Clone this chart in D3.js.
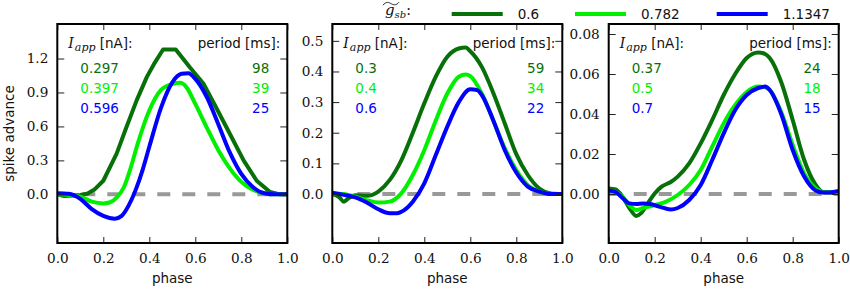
<!DOCTYPE html>
<html>
<head>
<meta charset="utf-8">
<script src="https://cdn.jsdelivr.net/npm/d3@7"></script>
<style>
  body { margin: 0; background: #fff; }
  svg { display: block; }
</style>
</head>
<body>
<svg id="chart"></svg>
<script>
// legend / labels
const gsbValues = ["0.6", "0.782", "1.1347"];
const iappLabels = [["0.297", "0.397", "0.596"], ["0.3", "0.4", "0.6"], ["0.37", "0.5", "0.7"]];
const periodLabels = [["98", "39", "25"], ["59", "34", "22"], ["24", "18", "15"]];

// ticks and ranges
const xTicks = [0, 0.2, 0.4, 0.6, 0.8, 1.0];
const yTicks = [[0, 0.3, 0.6, 0.9, 1.2], [0, 0.1, 0.2, 0.3, 0.4, 0.5], [0, 0.02, 0.04, 0.06, 0.08]];
const yDomains = [[-0.43, 1.505], [-0.16, 0.555], [-0.0245, 0.085]];
const yFormats = [".1f", ".1f", ".2f"];

// panel 1  [phase, spike advance]
const p1Dark = [[0, 0], [0.03, -0.015], [0.07, -0.01], [0.1, -0.005], [0.13, 0.005], [0.16, 0.04], [0.2, 0.12], [0.258, 0.36], [0.3, 0.59], [0.345, 0.83], [0.39, 1.04], [0.42, 1.15], [0.46, 1.28], [0.515, 1.28], [0.577, 1.12], [0.635, 0.98], [0.69, 0.77], [0.75, 0.535], [0.81, 0.3], [0.867, 0.12], [0.925, 0.02], [0.968, 0], [1, 0]];
const p1Light = [[0, 0], [0.05, -0.005], [0.1, -0.02], [0.15, -0.065], [0.2, -0.08], [0.23, -0.07], [0.26, -0.025], [0.29, 0.065], [0.32, 0.24], [0.35, 0.45], [0.4, 0.74], [0.45, 0.92], [0.5, 0.975], [0.535, 0.985], [0.56, 0.95], [0.6, 0.8], [0.65, 0.59], [0.7, 0.39], [0.75, 0.23], [0.8, 0.11], [0.85, 0.04], [0.9, 0.01], [0.95, 0], [1, 0]];
const p1Blue = [[0, 0.01], [0.05, 0.005], [0.1, -0.04], [0.15, -0.13], [0.2, -0.19], [0.25, -0.215], [0.28, -0.19], [0.31, -0.1], [0.34, 0.035], [0.37, 0.21], [0.4, 0.42], [0.45, 0.76], [0.5, 0.99], [0.54, 1.065], [0.57, 1.07], [0.6, 1.02], [0.65, 0.86], [0.7, 0.62], [0.75, 0.37], [0.8, 0.18], [0.85, 0.065], [0.9, 0.01], [0.95, 0], [1, 0]];

// panel 2
const p2Dark = [[0, 0], [0.03, -0.01], [0.05, -0.025], [0.07, -0.014], [0.1, -0.004], [0.15, -0.006], [0.2, 0.008], [0.25, 0.046], [0.3, 0.11], [0.35, 0.2], [0.4, 0.296], [0.45, 0.383], [0.5, 0.448], [0.55, 0.475], [0.58, 0.478], [0.6, 0.466], [0.65, 0.415], [0.7, 0.33], [0.75, 0.23], [0.8, 0.13], [0.85, 0.062], [0.9, 0.018], [0.95, 0.002], [1, 0]];
const p2Light = [[0, 0.002], [0.05, 0], [0.1, -0.009], [0.15, -0.02], [0.2, -0.028], [0.25, -0.025], [0.3, 0.002], [0.35, 0.062], [0.4, 0.143], [0.45, 0.24], [0.5, 0.328], [0.55, 0.383], [0.58, 0.39], [0.6, 0.385], [0.65, 0.328], [0.7, 0.24], [0.75, 0.149], [0.8, 0.078], [0.85, 0.029], [0.9, 0.008], [0.95, 0], [1, 0]];
const p2Blue = [[0, 0.004], [0.05, -0.003], [0.1, -0.011], [0.15, -0.028], [0.2, -0.05], [0.25, -0.063], [0.28, -0.063], [0.3, -0.058], [0.35, -0.025], [0.4, 0.035], [0.45, 0.127], [0.5, 0.22], [0.55, 0.3], [0.6, 0.342], [0.63, 0.339], [0.65, 0.323], [0.7, 0.24], [0.75, 0.143], [0.8, 0.07], [0.85, 0.024], [0.9, 0.008], [0.95, 0], [1, 0]];

// panel 3
const p3Dark = [[0, 0.0028], [0.03, 0.0023], [0.06, -0.0013], [0.09, -0.007], [0.12, -0.011], [0.14, -0.0097], [0.17, -0.0047], [0.2, 0.0003], [0.23, 0.0037], [0.27, 0.006], [0.3, 0.0087], [0.35, 0.0153], [0.4, 0.0253], [0.45, 0.037], [0.5, 0.0495], [0.55, 0.06], [0.6, 0.068], [0.65, 0.0708], [0.68, 0.07], [0.7, 0.068], [0.75, 0.056], [0.8, 0.037], [0.85, 0.017], [0.9, 0.0045], [0.93, 0.001], [0.95, 0.0007], [1, 0.001]];
const p3Light = [[0, 0.0017], [0.03, 0.001], [0.06, -0.0013], [0.09, -0.0055], [0.12, -0.008], [0.15, -0.007], [0.2, -0.0055], [0.25, -0.0038], [0.3, -0.0005], [0.35, 0.0045], [0.4, 0.012], [0.45, 0.0237], [0.5, 0.0353], [0.55, 0.0445], [0.6, 0.051], [0.65, 0.0537], [0.68, 0.0533], [0.7, 0.052], [0.75, 0.041], [0.8, 0.0245], [0.85, 0.0103], [0.9, 0.0028], [0.93, 0.001], [1, 0.001]];
const p3Blue = [[0, 0.0017], [0.03, 0.001], [0.06, -0.002], [0.09, -0.0047], [0.12, -0.005], [0.15, -0.0047], [0.18, -0.005], [0.22, -0.0063], [0.27, -0.0077], [0.3, -0.007], [0.35, -0.003], [0.4, 0.0045], [0.45, 0.017], [0.5, 0.0303], [0.55, 0.042], [0.6, 0.0495], [0.65, 0.053], [0.68, 0.0537], [0.7, 0.052], [0.75, 0.04], [0.8, 0.022], [0.85, 0.0087], [0.9, 0.0017], [0.93, 0.0007], [0.96, 0.0008], [1, 0.0015]];

const panelSeries = [[p1Dark, p1Light, p1Blue], [p2Dark, p2Light, p2Blue], [p3Dark, p3Light, p3Blue]];

const colors = ["#087008", "#00f000", "#0000ff"];
const sans = "'DejaVu Sans', sans-serif";
const serif = "'DejaVu Serif', serif";

const W = 850, H = 289;
const panelLeft = [57.3, 332.3, 608.7];
const panelW = 230;
const plotTop = 24, plotBottom = 243;

const svg = d3.select("#chart").attr("width", W).attr("height", H);

panelSeries.forEach((series, i) => {
  const g = svg.append("g").attr("transform", `translate(${panelLeft[i]},0)`);
  const x = d3.scaleLinear().domain([0, 1]).range([0, panelW]);
  const y = d3.scaleLinear().domain(yDomains[i]).range([plotBottom, plotTop]);

  // dashed zero line
  g.append("line")
    .attr("x1", x(0)).attr("x2", x(1))
    .attr("y1", y(0)).attr("y2", y(0))
    .attr("stroke", "#999").attr("stroke-width", 4)
    .attr("stroke-dasharray", "13,12");

  series.forEach((s, k) => {
    // the coarse low-current curve of the first panel is drawn straight between samples
    const line = d3.line()
      .x(d => x(d[0]))
      .y(d => y(d[1]))
      .curve(i === 0 && k === 0 ? d3.curveLinear : d3.curveMonotoneX);
    g.append("path")
      .datum(s)
      .attr("d", line)
      .attr("fill", "none")
      .attr("stroke", colors[k])
      .attr("stroke-width", 4)
      .attr("stroke-linejoin", "round");
  });

  // axes with inward ticks
  g.append("g").attr("transform", `translate(0,${plotBottom})`)
    .call(d3.axisBottom(x).tickValues(xTicks).tickFormat(d3.format(".1f")).tickSize(-6).tickPadding(10));
  g.append("g").attr("transform", `translate(0,${plotTop})`)
    .call(d3.axisTop(x).tickValues(xTicks).tickFormat("").tickSize(-6));
  g.append("g")
    .call(d3.axisLeft(y).tickValues(yTicks[i]).tickFormat(d3.format(yFormats[i])).tickSize(-7).tickPadding(9));
  g.append("g").attr("transform", `translate(${panelW},0)`)
    .call(d3.axisRight(y).tickValues(yTicks[i]).tickFormat("").tickSize(-7));

  g.selectAll(".domain").remove();
  g.selectAll(".tick line").attr("stroke", "#222").attr("stroke-width", 1);
  g.selectAll(".tick text").attr("font-family", serif).attr("font-size", 13.6).attr("fill", "#111");

  // frame
  g.append("rect")
    .attr("x", 0).attr("y", plotTop)
    .attr("width", panelW).attr("height", plotBottom - plotTop)
    .attr("fill", "none").attr("stroke", "#000").attr("stroke-width", 2);

  // header texts
  const hdr = g.append("text").attr("x", 11).attr("y", 48).attr("fill", "#111");
  hdr.append("tspan").attr("font-family", serif).attr("font-style", "italic").attr("font-size", 14).text("I");
  hdr.append("tspan").attr("font-family", serif).attr("font-style", "italic").attr("font-size", 11).attr("dx", 1).attr("dy", 3).text("app");
  hdr.append("tspan").attr("font-family", sans).attr("font-size", 13.5).attr("dy", -3).text(" [nA]:");

  g.append("text")
    .attr("x", panelW - 7).attr("y", 48)
    .attr("text-anchor", "end")
    .attr("font-family", sans).attr("font-size", 13.5).attr("fill", "#111")
    .text("period [ms]:");

  iappLabels[i].forEach((t, k) => {
    g.append("text")
      .attr("x", 23).attr("y", 73.3 + k * 19.6)
      .attr("font-family", sans).attr("font-size", 13.5).attr("fill", colors[k])
      .text(t);
    g.append("text")
      .attr("x", panelW - 18).attr("y", 73.3 + k * 19.6)
      .attr("text-anchor", "end")
      .attr("font-family", sans).attr("font-size", 13.5).attr("fill", colors[k])
      .text(periodLabels[i][k]);
  });

  // x label
  g.append("text")
    .attr("x", panelW / 2).attr("y", 283)
    .attr("text-anchor", "middle")
    .attr("font-family", sans).attr("font-size", 13.5).attr("fill", "#111")
    .text("phase");
});

// y label
svg.append("text")
  .attr("transform", `translate(14,${(plotTop + plotBottom) / 2}) rotate(-90)`)
  .attr("text-anchor", "middle")
  .attr("font-family", sans).attr("font-size", 13.5).attr("fill", "#111")
  .text("spike advance");

// legend
const leg = svg.append("g");
const gl = leg.append("text").attr("x", 385).attr("y", 15).attr("fill", "#111");
gl.append("tspan").attr("font-family", serif).attr("font-style", "italic").attr("font-size", 15).text("g");
gl.append("tspan").attr("font-family", serif).attr("font-style", "italic").attr("font-size", 10).attr("dy", 3).text("sb");
gl.append("tspan").attr("font-family", serif).attr("font-size", 14).attr("dy", -3).text(":");
// wide tilde accent over g_sb
leg.append("path")
  .attr("d", "M383,5.2 C386,1.2 389,2.4 391,3.6 C393,4.8 396,6 399,2.2")
  .attr("fill", "none").attr("stroke", "#111").attr("stroke-width", 0.9);

const legX = [451.7, 575, 716.7];
gsbValues.forEach((v, k) => {
  leg.append("line")
    .attr("x1", legX[k]).attr("x2", legX[k] + 51)
    .attr("y1", 14).attr("y2", 14)
    .attr("stroke", colors[k]).attr("stroke-width", 4);
  leg.append("text")
    .attr("x", legX[k] + 66).attr("y", 18.5)
    .attr("font-family", sans).attr("font-size", 13.5).attr("fill", "#111")
    .text(v);
});
</script>
</body>
</html>
